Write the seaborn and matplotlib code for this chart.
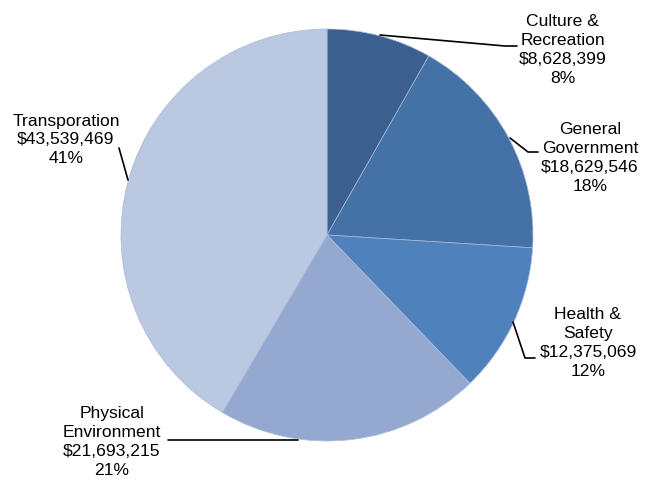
import matplotlib
matplotlib.use("Agg")
import matplotlib.pyplot as plt
import seaborn as sns

# Data
categories = ["Culture &\nRecreation", "General\nGovernment", "Health &\nSafety",
              "Physical\nEnvironment", "Transporation"]
amounts = [8628399, 18629546, 12375069, 21693215, 43539469]
percents = ["8%", "18%", "12%", "21%", "41%"]
colors = ["#3B5F8E", "#4472A7", "#4F81BD", "#95A9D0", "#BAC8E1"]

sns.set_style("white")
plt.rcParams['font.family'] = ['Liberation Sans', 'DejaVu Sans']

fig = plt.figure(figsize=(6.5, 4.8), dpi=100)
ax = fig.add_axes([0, 0, 1, 1])

# pie in pixel space (y measured from bottom)
ax.pie(amounts, colors=colors, startangle=90, counterclock=False,
       center=(327, 480 - 235), radius=206,
       wedgeprops=dict(linewidth=0.5, edgecolor="#a9bad8"))

# pie() resets the limits, so set them afterwards
ax.set_xlim(0, 650)
ax.set_ylim(0, 480)
ax.set_aspect("equal")
ax.axis("off")

# label positions (x, y from top) and leader lines, layout only
label_pos = [(563, 50), (590, 158), (588, 343), (112, 442), (66, 140)]
leaders = [
    [(380, 35), (505, 46), (517, 46)],
    [(510, 138), (528, 152), (538, 152)],
    [(513, 322), (525, 358), (535, 358)],
    [(168, 440), (298, 440)],
    [(119, 148), (128, 180)],
]

for cat, amt, pct, (lx, ly), pts in zip(categories, amounts, percents, label_pos, leaders):
    txt = f"{cat}\n${amt:,}\n{pct}"
    ax.text(lx, 480 - ly, txt, ha="center", va="center", fontsize=12.6,
            linespacing=1.33, color="black")
    ax.plot([p[0] for p in pts], [480 - p[1] for p in pts], color="black", lw=1.2)

fig.savefig("out.png", dpi=100)
